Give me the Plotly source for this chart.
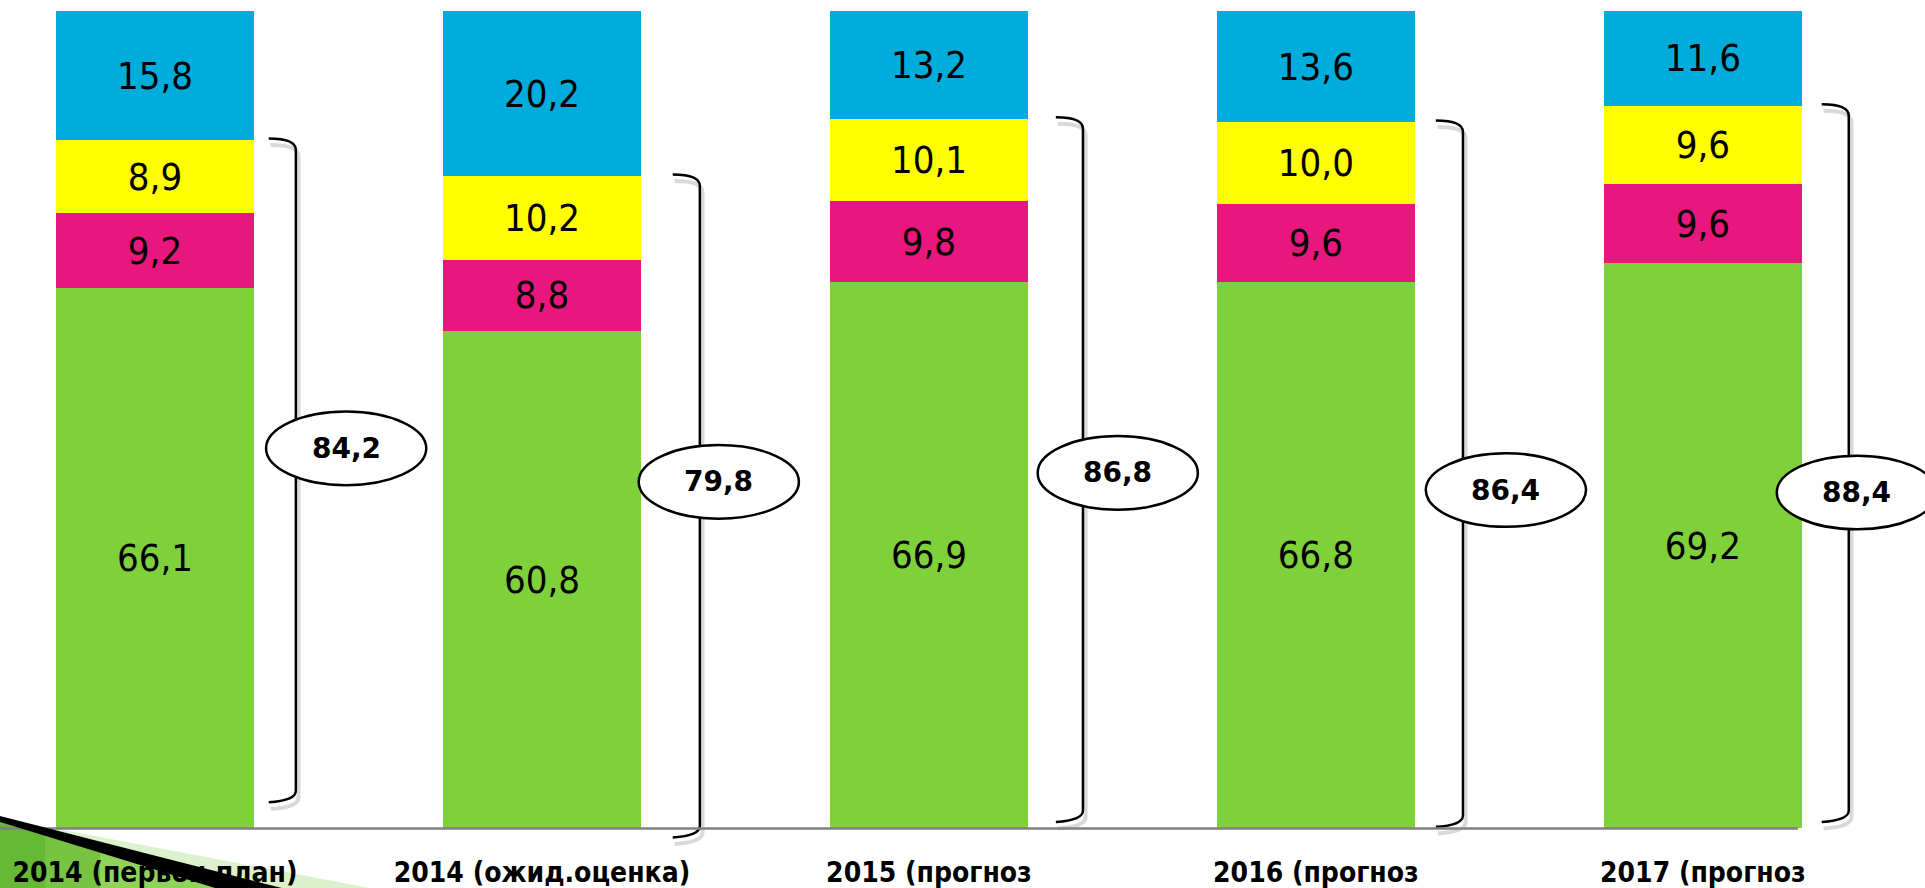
import plotly.graph_objects as go

categories = ["2014 (первон.план)", "2014 (ожид.оценка)", "2015 (прогноз",
              "2016 (прогноз", "2017 (прогноз"]
green_vals = [66.1, 60.8, 66.9, 66.8, 69.2]
magenta_vals = [9.2, 8.8, 9.8, 9.6, 9.6]
yellow_vals = [8.9, 10.2, 10.1, 10.0, 9.6]
blue_vals = [15.8, 20.2, 13.2, 13.6, 11.6]
totals = [84.2, 79.8, 86.8, 86.4, 88.4]

x = list(range(len(categories)))


def fmt(v):
    return f"{v:.1f}".replace(".", ",")


fig = go.Figure()
series = [
    (green_vals, "#7fd13b"),
    (magenta_vals, "#e8177d"),
    (yellow_vals, "#ffff00"),
    (blue_vals, "#00acdc"),
]
for vals, col in series:
    fig.add_trace(go.Bar(
        x=x, y=vals, width=0.512,
        marker=dict(color=col, line=dict(width=0)),
        text=[fmt(v) for v in vals],
        textposition="inside", insidetextanchor="middle",
        textfont=dict(family="DejaVu Sans Condensed, DejaVu Sans", size=38, color="black"),
        constraintext="none",
        hoverinfo="skip",
    ))

# brackets + ellipses (layout only)
br_off = [0.364, 0.408, 0.398, 0.38, 0.377]
br_bot = [3.4, -0.9, 1.0, 0.4, 1.0]
el_off = [0.494, 0.457, 0.488, 0.491, 0.398]
el_y = [46.5, 42.4, 43.5, 41.4, 41.1]
shapes = []
for i in x:
    bx = i + br_off[i]
    top = totals[i]
    bot = br_bot[i]
    path = (f"M {bx-0.07},{top+0.2} Q {bx},{top+0.2} {bx},{top-1.2} "
            f"L {bx},{bot+1.2} Q {bx},{bot} {bx-0.07},{bot-0.2}")
    spath = (f"M {bx-0.065},{top-0.6} Q {bx+0.007},{top-0.6} {bx+0.007},{top-2} "
             f"L {bx+0.007},{bot+0.4} Q {bx+0.007},{bot-0.8} {bx-0.065},{bot-1.0}")
    shapes.append(dict(type="path", path=spath, xref="x", yref="y",
                       line=dict(color="rgba(0,0,0,0.15)", width=4)))
    shapes.append(dict(type="path", path=path, xref="x", yref="y",
                       line=dict(color="black", width=2.5)))
    ex = i + el_off[i]
    shapes.append(dict(type="circle", xref="x", yref="y",
                       x0=ex - 0.207, x1=ex + 0.207,
                       y0=el_y[i] - 4.5, y1=el_y[i] + 4.5,
                       fillcolor="white", line=dict(color="black", width=2.5)))
    fig.add_annotation(x=ex, y=el_y[i], text=f"<b>{fmt(totals[i])}</b>",
                       showarrow=False,
                       font=dict(family="DejaVu Sans", size=28, color="black"))

# baseline
shapes.append(dict(type="line", xref="paper", yref="y", x0=0, x1=0.934, y0=0, y1=0,
                   line=dict(color="#808080", width=2.5)))

# decorative corner in the lower left
shapes += [
    dict(type="path", xref="paper", yref="paper", layer="below",
         path="M 0,0.0416 L 0.1922,-0.0416 L 0,-0.0416 Z",
         fillcolor="#dcf2cc", line=dict(width=0)),
    dict(type="path", xref="paper", yref="paper", layer="below",
         path="M 0,0.0368 L 0.1117,-0.0416 L 0,-0.0416 Z",
         fillcolor="#8fd45a", line=dict(width=0)),
    dict(type="path", xref="paper", yref="paper", layer="below",
         path="M 0,0.0368 L 0.052,0.0004 L 0.052,-0.0416 L 0,-0.0416 Z",
         fillcolor="#76c442", line=dict(width=0)),
    dict(type="path", xref="paper", yref="paper", layer="below",
         path="M 0,0.0368 L 0.0234,0.0204 L 0.0234,-0.0416 L 0,-0.0416 Z",
         fillcolor="#66b935", line=dict(width=0)),
    dict(type="path", xref="paper", yref="paper", layer="above",
         path="M 0,0.0439 L 0.1465,-0.0416 L 0.1117,-0.0416 L 0,0.0368 Z",
         fillcolor="black", line=dict(width=0)),
]

fig.update_layout(
    width=1925, height=888,
    margin=dict(l=0, r=0, t=11, b=35),
    paper_bgcolor="white", plot_bgcolor="white",
    barmode="stack", showlegend=False,
    shapes=shapes,
    xaxis=dict(range=[-0.4005, 4.574], tickvals=x, ticktext=categories,
               showgrid=False, zeroline=False, showline=False, ticks="",
               automargin=False, ticklabelstandoff=0,
               tickfont=dict(family="DejaVu Sans Condensed, DejaVu Sans", size=28,
                             color="black", weight="bold")),
    yaxis=dict(range=[-3, 100], visible=False, automargin=False),
)

fig.write_html("out.html", config={"displayModeBar": False},
               post_script="document.body.style.margin='0';")
